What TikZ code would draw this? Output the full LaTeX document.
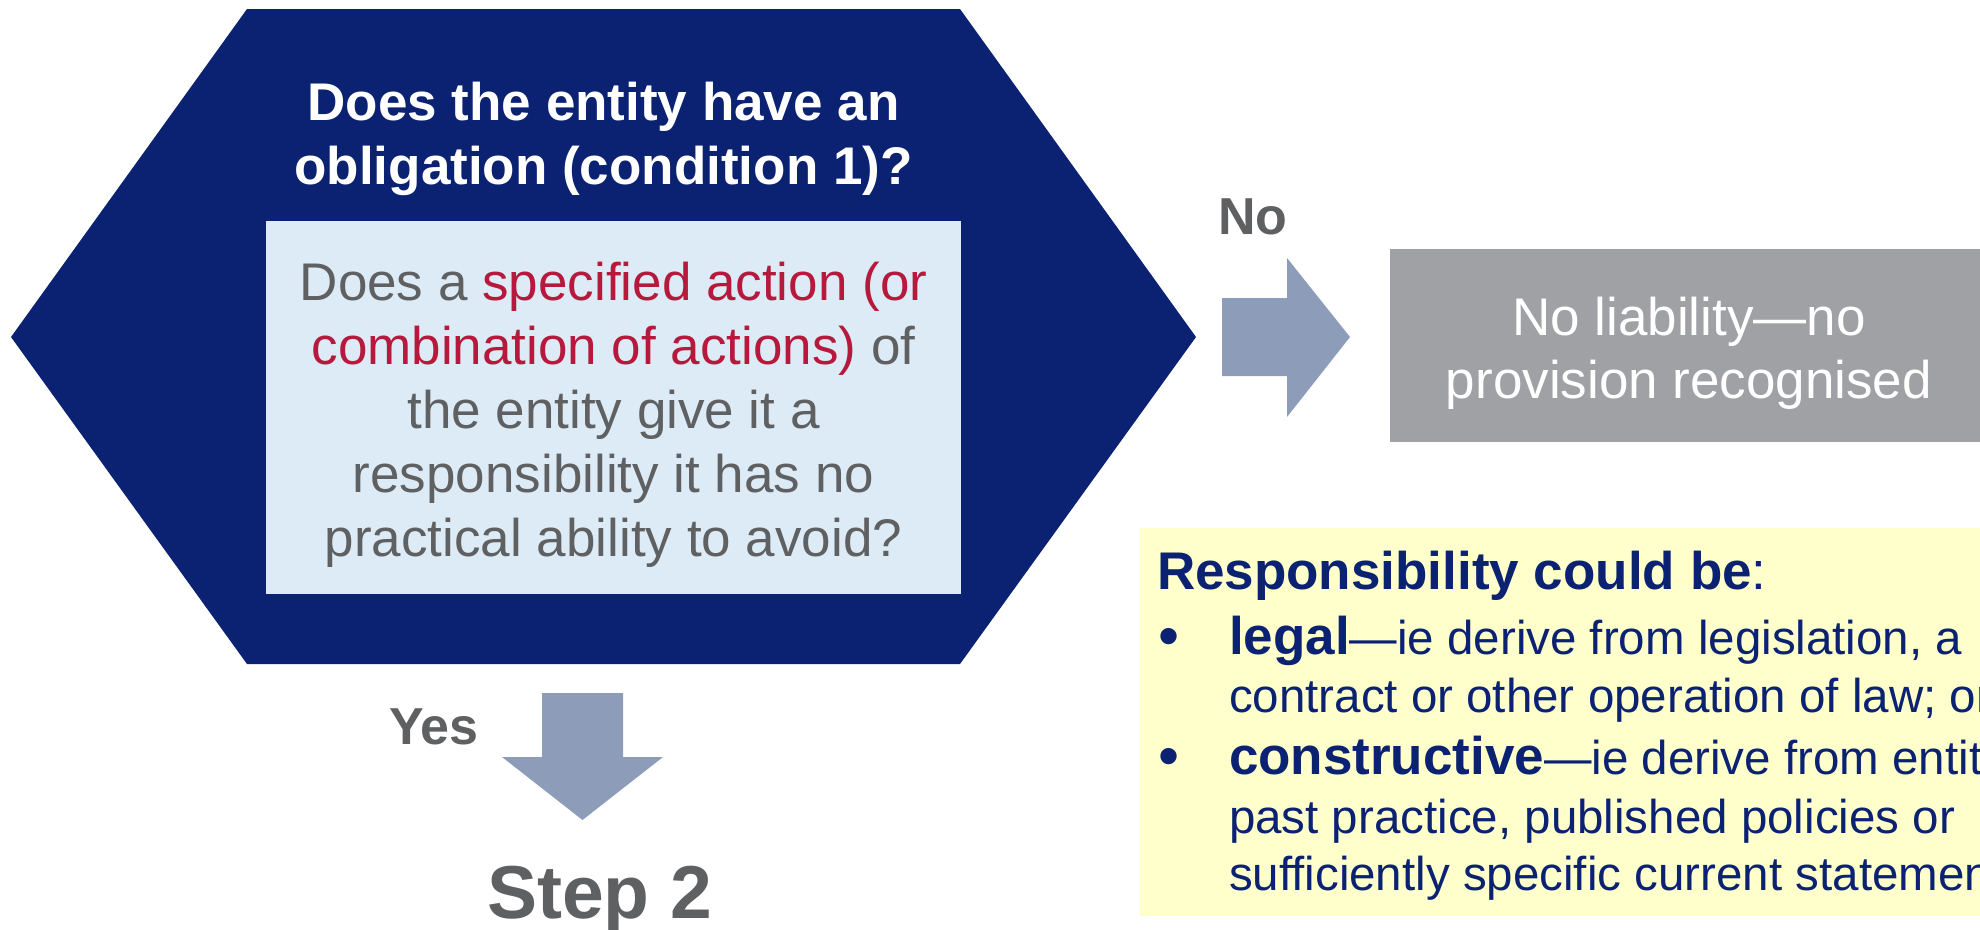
\documentclass[tikz,border=0pt]{standalone}
\usepackage{fontspec}
\setmainfont{Liberation Sans}
\definecolor{navy}{RGB}{11,33,114}
\definecolor{inkgray}{RGB}{95,96,98}
\definecolor{keyred}{RGB}{182,25,60}
\definecolor{paleblue}{RGB}{221,235,247}
\definecolor{arrowblue}{RGB}{141,157,185}
\definecolor{boxgray}{RGB}{160,161,164}
\definecolor{paleyellow}{RGB}{255,255,204}
\newcommand{\bigtext}{\fontsize{53}{64}\selectfont}
\newcommand{\notetext}{\fontsize{47.5}{59}\selectfont}
\begin{document}
\begin{tikzpicture}[x=1pt,y=-1pt,
  line/.style={inner sep=0pt, outer sep=0pt, anchor=base},
  leftline/.style={line, anchor=base west},
  title/.style={line, text=white, font=\bigtext\bfseries},
  question/.style={line, text=inkgray, font=\bigtext},
  answer/.style={leftline, text=inkgray, font=\fontsize{52}{60}\selectfont\bfseries},
  result/.style={line, text=white, font=\bigtext},
  note/.style={leftline, text=navy, font=\notetext},
  bullet/.style={leftline, text=navy, font=\fontsize{60}{60}\selectfont},
  blockarrow/.style={fill=arrowblue, draw=none}]
\useasboundingbox (0,0) rectangle (1980,929);
\begin{scope}
\clip (0,0) rectangle (1980,929);

% decision hexagon
\coordinate (hexL) at (11,337);
\coordinate (hexTL) at (247,9);
\coordinate (hexTR) at (960,9);
\coordinate (hexR) at (1196,337);
\coordinate (hexBR) at (960,664);
\coordinate (hexBL) at (247,664);
\fill[navy] (hexL) -- (hexTL) -- (hexTR) -- (hexR) -- (hexBR) -- (hexBL) -- cycle;

\node[title] (t1) at (603.5,120) {Does the entity have an};
\node[title] (t2) at (603.5,184) {obligation (condition 1)?};

% question panel
\fill[paleblue] (266,221) rectangle (961,594);
\node[question] (q1) at (613.5,300) {Does a \textcolor{keyred}{specified action (or}};
\node[question] (q2) at (613.5,364) {\textcolor{keyred}{combination of actions)} of};
\node[question] (q3) at (613.5,428) {the entity give it a};
\node[question] (q4) at (613.5,492) {responsibility it has no};
\node[question] (q5) at (613.5,556) {practical ability to avoid?};

% "No" branch
\node[answer] (no) at (1218,234) {No};
\fill[blockarrow] (1222,298) -- (1287,298) -- (1287,258) -- (1350,337)
  -- (1287,417) -- (1287,376) -- (1222,376) -- cycle;
\fill[boxgray] (1390,249) rectangle (1992,442);
\node[result] (r1) at (1689,335) {No liability—no};
\node[result] (r2) at (1689,398) {provision recognised};

% "Yes" branch
\node[answer] (yes) at (389,744) {Yes};
\fill[blockarrow] (542,693) -- (623,693) -- (623,757) -- (663,757)
  -- (582.5,820) -- (502,757) -- (542,757) -- cycle;
\node[leftline, text=inkgray, font=\fontsize{75}{80}\selectfont\bfseries] (step) at (487,918) {Step 2};

% note on kinds of responsibility
\fill[paleyellow] (1140,528) rectangle (1992,916);
\node[note] (n0) at (1157,589) {{\fontsize{53}{59}\selectfont\bfseries Responsibility could be}{\fontsize{53}{59}\selectfont :}};
\node[bullet] (b1) at (1158,656) {•};
\node[note] (n1) at (1229,654) {{\fontsize{53}{59}\selectfont\bfseries legal}—ie derive from legislation, a};
\node[note] (n2) at (1229,712) {contract or other operation of law; or};
\node[bullet] (b2) at (1158,776) {•};
\node[note] (n3) at (1229,774) {{\fontsize{53}{59}\selectfont\bfseries constructive}—ie derive from entity’s};
\node[note] (n4) at (1229,833) {past practice, published policies or};
\node[note] (n5) at (1229,890) {sufficiently specific current statements};
\end{scope}
\end{tikzpicture}
\end{document}
